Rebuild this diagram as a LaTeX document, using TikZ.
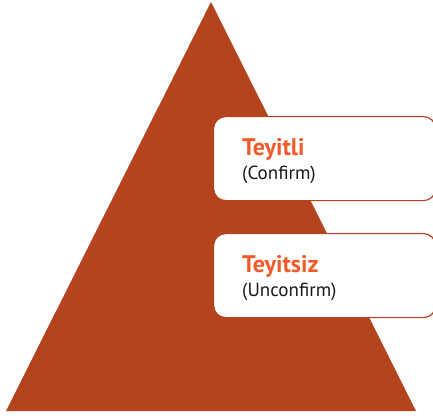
\documentclass[tikz,border=0pt]{standalone}
\usepackage{fontspec}
\setmainfont{PT Sans}
\definecolor{rust}{HTML}{B3441E}
\definecolor{tagorange}{HTML}{F15A29}
\tikzstyle{level}=[draw=rust, line width=1.2pt, fill=white, rounded corners=12pt, anchor=north west, minimum width=222pt, minimum height=84pt, inner sep=0pt]
\tikzstyle{title}=[anchor=base west, inner sep=0pt, font=\bfseries\fontsize{24}{26}\selectfont, text=tagorange]
\tikzstyle{sub}=[anchor=base west, inner sep=0pt, font=\fontsize{19}{21}\selectfont, text=black!90]

\begin{document}
\begin{tikzpicture}[x=1pt,y=-1pt]
        \useasboundingbox (0,0) rectangle (433,417);
        \fill[rust] (211,2) -- (416,411) -- (6,411) -- cycle;
        %
        \draw (213,116) node[level](conf){};
        \draw (213,233) node[level](unconf){};
        %
        \draw (242,155) node[title](confT){Teyitli};
        \draw (242,179) node[sub](confS){(Confirm)};
        \draw (242,272) node[title](unconfT){Teyitsiz};
        \draw (242,296) node[sub](unconfS){(Unconfirm)};
        %
\end{tikzpicture}
\end{document}
